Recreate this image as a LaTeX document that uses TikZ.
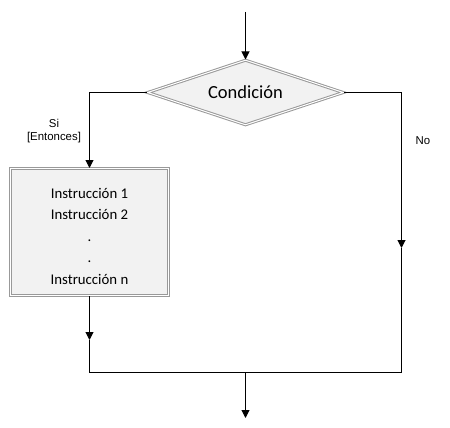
\documentclass[tikz,border=0pt]{standalone}
\usepackage{fontspec}
\setmainfont{Carlito}
\newfontfamily\arialfont{Liberation Sans}
\usetikzlibrary{shapes.geometric,arrows.meta}

\begin{document}
\begin{tikzpicture}[x=1pt, y=-1pt, >={Triangle[length=8pt,width=8pt]},
	every node/.style={font=\fontsize{14.8}{21.5}\selectfont},
	bloque/.style={draw=gray!80, double=white, double distance=1pt, line width=1pt, fill=gray!10},
	nota/.style={font=\arialfont\fontsize{11.4}{13}\selectfont, align=center},
	flujo/.style={line width=1pt}]
	\useasboundingbox (0,0) rectangle (450,428);
	\node[bloque, diamond, aspect=3, inner sep=0pt, minimum width=196pt, minimum height=65pt, font=\fontsize{18.5}{20}\selectfont] (cond) at (245.5,92.5) {Condición};
	\node[bloque, rectangle, minimum width=158pt, minimum height=127pt, align=center] (instr) at (89.5,232) {\rule{0pt}{19pt}Instrucción 1\\Instrucción 2\\.\\.\\Instrucción n};
	\node[nota] (si) at (54,131) {Si\\{[Entonces]}};
	\node[nota] (no) at (423,141) {No};
	\coordinate (inicio) at (245.5,12);
	\coordinate (flechaNo) at (401.5,248);
	\coordinate (unionNo) at (401.5,372.5);
	\coordinate (flechaSi) at (89.5,340);
	\coordinate (unionSi) at (89.5,372.5);
	\coordinate (fondo) at (245.5,372.5);
	\coordinate (salida) at (245.5,418);
	\draw[flujo, ->] (inicio) -- (cond.north);
	\draw[flujo, ->] (cond.west) -| (instr.north);
	\draw[flujo, ->] (cond.east) -| (flechaNo);
	\draw[flujo] (flechaNo) -- (unionNo) -- (unionSi);
	\draw[flujo, ->] (instr.south) -- (flechaSi);
	\draw[flujo] (flechaSi) -- (unionSi);
	\draw[flujo, ->] (fondo) -- (salida);
\end{tikzpicture}
\end{document}
